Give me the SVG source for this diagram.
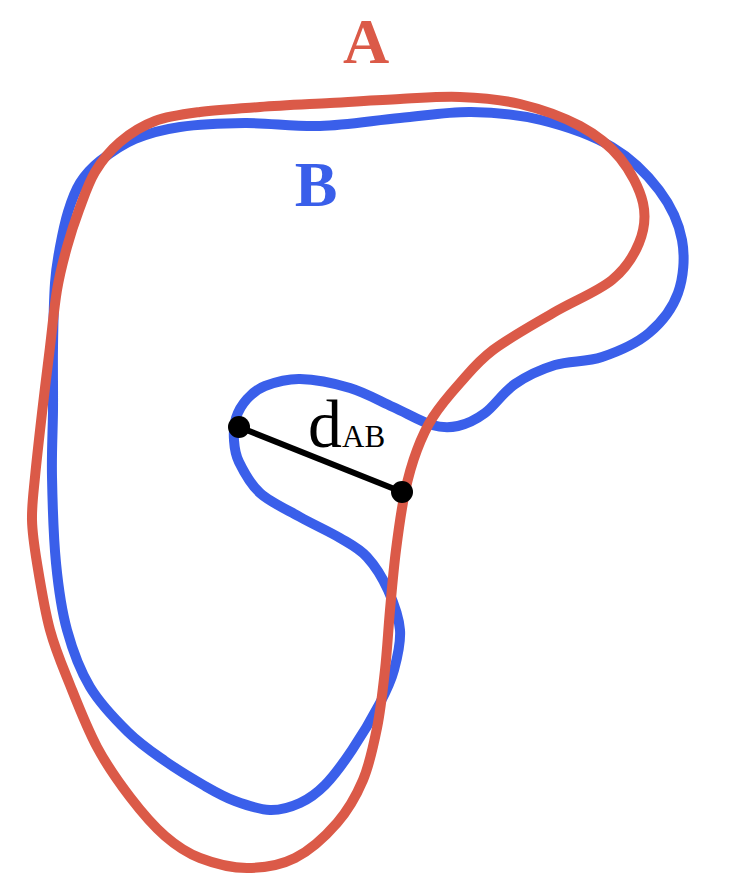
<svg xmlns="http://www.w3.org/2000/svg" width="734" height="882" viewBox="0 0 734 882">
<style>
.curve{fill:none;stroke-width:10;stroke-linejoin:round}
.blue{stroke:#3A5FEA}
.red{stroke:#DB5A48}
.lbl{font-family:"Liberation Serif","Times New Roman",serif;font-weight:bold;text-anchor:middle}
.math{font-family:"Liberation Serif","Times New Roman",serif;fill:#000}
</style>
<rect width="734" height="882" fill="#fff"/>
<g id="B">
<path class="curve blue" d="M52,477 C51.5,451.5 52.8,431.7 53,410 C53.2,388.3 52.7,368.2 53,347 C53.3,325.8 53.8,299.7 55,283 C56.2,266.3 57.8,258.8 60,247 C62.2,235.2 64.7,222.7 68,212 C71.3,201.3 74.7,191.5 80,183 C85.3,174.5 90.8,168.3 100,161 C109.2,153.7 121.7,144.7 135,139 C148.3,133.3 161.7,129.7 180,127 C198.3,124.3 221.7,123.2 245,123 C268.3,122.8 294.2,126.8 320,126 C345.8,125.2 374.8,120.3 400,118 C425.2,115.7 447.5,111.7 471,112 C494.5,112.3 517.5,114.2 541,120 C564.5,125.8 592.3,135.3 612,147 C631.7,158.7 647.3,174.5 659,190 C670.7,205.5 678.8,222.8 682,240 C685.2,257.2 683.5,277.5 678,293 C672.5,308.5 661.7,322.3 649,333 C636.3,343.7 617.7,351.7 602,357 C586.3,362.3 569.5,360.5 555,365 C540.5,369.5 526.7,376 515,384 C503.3,392 494.5,406 485,413 C475.5,420 466.8,424 458,426 C449.2,428 442.8,428.2 432,425 C421.2,421.8 406.7,413.2 393,407 C379.3,400.8 365.5,392.7 350,388 C334.5,383.3 314.2,379.3 300,379 C285.8,378.7 273.8,382.7 265,386 C256.2,389.3 251.8,393.7 247,399 C242.2,404.3 238.2,411.2 236,418 C233.8,424.8 233.5,432.7 234,440 C234.5,447.3 234.7,453.2 239,462 C243.3,470.8 249.8,483.8 260,493 C270.2,502.2 286.7,509.5 300,517 C313.3,524.5 328.8,531.3 340,538 C351.2,544.7 359,548.3 367,557 C375,565.7 382.5,577.8 388,590 C393.5,602.2 399,616.7 400,630 C401,643.3 397.3,657.8 394,670 C390.7,682.2 387,689.7 380,703 C373,716.3 361.2,736.3 352,750 C342.8,763.7 333.7,776.2 325,785 C316.3,793.8 309.2,798.8 300,803 C290.8,807.2 280.8,810.3 270,810 C259.2,809.7 245.8,805 235,801 C224.2,797 216.7,792.7 205,786 C193.3,779.3 177.8,770 165,761 C152.2,752 140.5,744.3 128,732 C115.5,719.7 100.2,704 90,687 C79.8,670 72.7,650.7 67,630 C61.3,609.3 58.5,588.5 56,563 C53.5,537.5 52.5,502.5 52,477 Z"/>
<text class="lbl" x="316" y="206" font-size="64" fill="#3A5FEA">B</text>
</g>
<g id="A">
<path class="curve red" d="M35,477 C36.7,459.2 39.5,434.7 42,413 C44.5,391.3 47.5,367.5 50,347 C52.5,326.5 54.2,306.7 57,290 C59.8,273.3 63.3,260.3 67,247 C70.7,233.7 74.3,222.5 79,210 C83.7,197.5 88.2,183.3 95,172 C101.8,160.7 110,150.5 120,142 C130,133.5 141.7,126 155,121 C168.3,116 182.5,114.3 200,112 C217.5,109.7 238.3,108.5 260,107 C281.7,105.5 306.7,104.3 330,103 C353.3,101.7 378.3,100 400,99 C421.7,98 440,96.2 460,97 C480,97.8 500,99.2 520,104 C540,108.8 563.3,117 580,126 C596.7,135 609.5,145.2 620,158 C630.5,170.8 639.8,188.8 643,203 C646.2,217.2 644.2,230.2 639,243 C633.8,255.8 626.3,268.3 612,280 C597.7,291.7 572.8,301.3 553,313 C533.2,324.7 508.5,338.3 493,350 C477.5,361.7 470,371.8 460,383 C450,394.2 440.2,405.8 433,417 C425.8,428.2 421.7,437.5 417,450 C412.3,462.5 408.5,475.3 405,492 C401.5,508.7 398.5,530.3 396,550 C393.5,569.7 391.8,590 390,610 C388.2,630 387.2,650.3 385,670 C382.8,689.7 380.7,709.7 377,728 C373.3,746.3 369.7,764.2 363,780 C356.3,795.8 348.3,810 337,823 C325.7,836 310,850.5 295,858 C280,865.5 262.8,868 247,868 C231.2,868 213.7,863.3 200,858 C186.3,852.7 176.7,846.2 165,836 C153.3,825.8 141.3,811.8 130,797 C118.7,782.2 107,765.7 97,747 C87,728.3 77.8,704.5 70,685 C62.2,665.5 55.5,650.3 50,630 C44.5,609.7 40,581.3 37,563 C34,544.7 32.3,534.3 32,520 C31.7,505.7 33.3,494.8 35,477 Z"/>
<text class="lbl" x="366" y="63" font-size="64" fill="#DB5A48">A</text>
</g>
<g id="connectors">
<line x1="239" y1="427" x2="402" y2="492" stroke="#000" stroke-width="6"/>
<circle cx="239" cy="427" r="11" fill="#000"/>
<circle cx="402" cy="492" r="11" fill="#000"/>
<text class="math" x="308" y="447" font-size="68">d<tspan font-size="31">AB</tspan></text>
</g>
</svg>
